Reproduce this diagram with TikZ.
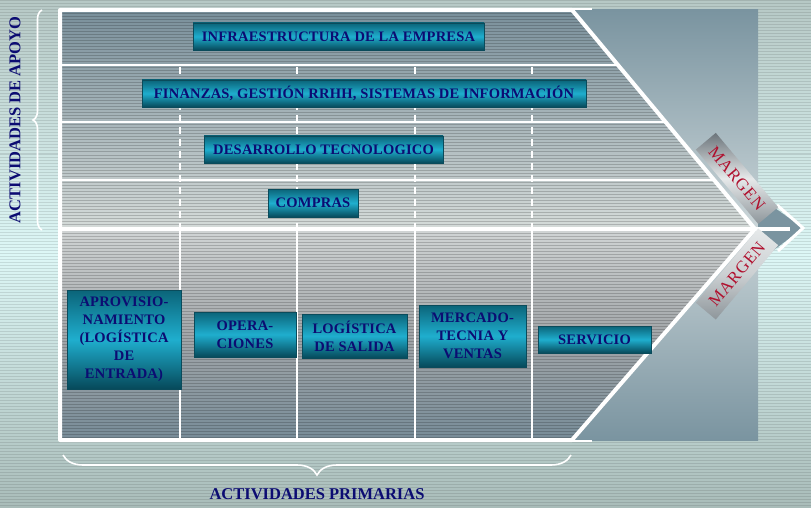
\documentclass[tikz,border=0pt]{standalone}
\usepackage{fontspec}
\setmainfont{Liberation Serif}
\newfontfamily\lsfont[LetterSpace=1.5]{Liberation Serif}
\newfontfamily\mgfont[LetterSpace=5]{Liberation Serif}
\usetikzlibrary{decorations.pathreplacing}
\definecolor{bgtop}{HTML}{B6C8C5}
\definecolor{bgmid}{HTML}{DDF7F6}
\definecolor{bgbot}{HTML}{A9BCB9}
\definecolor{suptop}{HTML}{7A909B}
\definecolor{supbot}{HTML}{D5DBD9}
\definecolor{pritop}{HTML}{D0D4D4}
\definecolor{primid}{HTML}{A2A6A9}
\definecolor{pribot}{HTML}{778C98}
\definecolor{panedge}{HTML}{7A94A0}
\definecolor{panmid}{HTML}{CAD5D8}
\definecolor{tealtop}{HTML}{0B6479}
\definecolor{tealmid}{HTML}{1FAECE}
\definecolor{tealbot}{HTML}{06495A}
\definecolor{tealline}{HTML}{0A4B5B}
\definecolor{txtblue}{HTML}{0C0C72}
\definecolor{mgred}{HTML}{B0102E}
\definecolor{mgdark}{HTML}{6C757B}
\definecolor{mglight}{HTML}{E6E9EA}
\definecolor{mggray}{HTML}{8E969B}
\tikzset{
  stripe/.style={draw=black, draw opacity=0.10, line width=1pt},
  istripe/.style={draw=black, draw opacity=0.18, line width=1pt},
  frameline/.style={draw=white, line width=4pt, line join=round},
  rowline/.style={draw=white, line width=1.6pt},
  colline/.style={draw=white, line width=1.3pt},
  coldash/.style={draw=white, line width=1.3pt, dash pattern=on 7pt off 5pt},
  actbox/.style={shading=axis, top color=tealtop, bottom color=tealbot, middle color=tealmid,
    draw=tealline, line width=0.6pt, inner sep=0pt, text=txtblue, align=center,
    font=\lsfont\bfseries\fontsize{14.5}{18}\selectfont},
  mgbox/.style={minimum width=97pt, minimum height=26pt, inner sep=0pt, text=mgred,
    font=\mgfont\fontsize{17}{18}\selectfont},
  bracestyle/.style={draw=white, line width=1.6pt, decorate},
  biglabel/.style={text=txtblue, font=\bfseries\fontsize{16.5}{18}\selectfont, inner sep=0pt}
}
\begin{document}
\begin{tikzpicture}[x=1pt,y=-1pt]
\useasboundingbox (0,0) rectangle (811,508);
% background
\shade[top color=bgtop, bottom color=bgbot, middle color=bgmid] (0,0) rectangle (811,508);
\foreach \yy in {1,4,...,508} \draw[stripe] (0,\yy) -- (811,\yy);
% gray panel
\shade[top color=panedge, bottom color=panedge, middle color=panmid] (572,10) rectangle (758,440);
\fill[panedge] (758,196) -- (803,228) -- (758,262) -- cycle;
% interior
\shade[top color=suptop, bottom color=supbot] (62,12) -- (572,12) -- (755,229) -- (62,229) -- cycle;
\shade[top color=pritop, bottom color=pribot, middle color=primid] (62,229) -- (755,229) -- (572,440) -- (62,440) -- cycle;
\begin{scope}
\clip (62,12) -- (572,12) -- (755,229) -- (572,440) -- (62,440) -- cycle;
\foreach \yy in {2,5,...,440} \draw[istripe] (62,\yy) -- (760,\yy);
\end{scope}
% row lines
\draw[rowline] (62,65) -- (618,65);
\draw[rowline] (62,122) -- (666,122);
\draw[rowline, line width=1.2pt] (62,180) -- (715,180);
% column lines
\foreach \xx in {180,297,415,532} {
  \draw[coldash] (\xx,67) -- (\xx,228);
  \draw[colline] (\xx,229) -- (\xx,440);
}
% frame
\draw[frameline] (755,229) -- (572,10) -- (60,10) -- (60,440) -- (572,440) -- (755,229);
\draw[draw=white, line width=1.5pt] (572,9) -- (592,9);
\draw[draw=white, line width=1.5pt] (572,441) -- (592,441);
\draw[frameline] (60,229) -- (790,229);
\coordinate (t1) at (777,205);
\coordinate (tip) at (803,228);
\coordinate (t2) at (778,251);
\draw[draw=white, line width=3pt, line join=miter] (t1) -- (tip) -- (t2);
% margin boxes
\node[mgbox, rotate=-50, shading=axis, top color=mgdark, bottom color=mggray, middle color=mglight] (m1) at (737,178.4) {MARGEN};
\node[mgbox, rotate=50, shading=axis, top color=mglight, bottom color=mggray, middle color=mglight!70!mggray] (m2) at (737,274) {MARGEN};
% support activities
\node[actbox, minimum width=291pt, minimum height=27pt] (infra) at (338.5,36.5) {INFRAESTRUCTURA DE LA EMPRESA};
\node[actbox, minimum width=444pt, minimum height=27pt] (fin) at (364,93.5) {FINANZAS, GESTIÓN RRHH, SISTEMAS DE INFORMACIÓN};
\node[actbox, minimum width=239pt, minimum height=27pt] (des) at (323.5,149.5) {DESARROLLO TECNOLOGICO};
\node[actbox, minimum width=90pt, minimum height=28pt] (comp) at (313,203) {COMPRAS};
% primary activities
\node[actbox, minimum width=114pt, minimum height=99pt] (aprov) at (124,339.5) {APROVISIO-\\NAMIENTO\\(LOGÍSTICA\\DE\\ENTRADA)};
\node[actbox, minimum width=102pt, minimum height=45pt] (oper) at (245,334.5) {OPERA-\\CIONES};
\node[actbox, minimum width=105pt, minimum height=44pt] (logs) at (354.5,336) {LOGÍSTICA\\DE SALIDA};
\node[actbox, minimum width=107pt, minimum height=62pt] (merc) at (472.5,336) {MERCADO-\\TECNIA Y\\VENTAS};
\node[actbox, minimum width=113pt, minimum height=27pt] (serv) at (594.5,339.5) {SERVICIO};
% braces and labels
\coordinate (b1a) at (42,230);
\coordinate (b1b) at (42,10);
\draw[bracestyle, decoration={brace, amplitude=9pt}] (b1a) -- (b1b);
\coordinate (b2a) at (571,455);
\coordinate (b2b) at (63,455);
\draw[bracestyle, decoration={brace, amplitude=20pt}] (b2a) -- (b2b);
\node[biglabel, rotate=90] (apoyo) at (15,120) {ACTIVIDADES DE APOYO};
\node[biglabel] (prim) at (317,494) {ACTIVIDADES PRIMARIAS};
\end{tikzpicture}
\end{document}
